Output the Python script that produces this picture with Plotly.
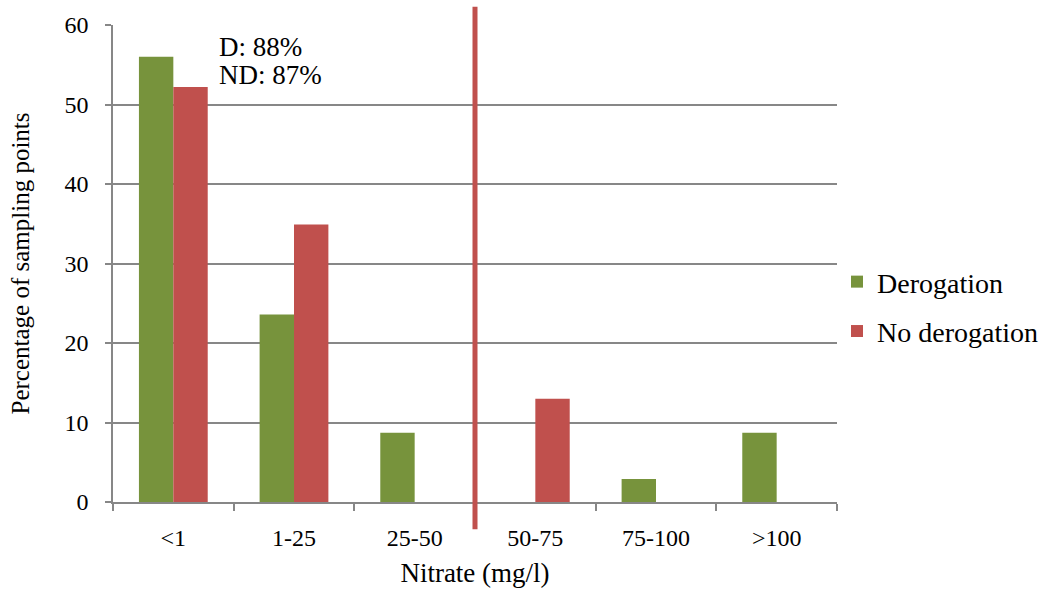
import plotly.graph_objects as go

# Nitrate concentration classes (mg/l)
categories = ["<1", "1-25", "25-50", "50-75", "75-100", ">100"]
# Percentage of sampling points per class
derogation = [56.0, 23.6, 8.7, 0, 2.9, 8.7]
no_derogation = [52.2, 34.9, 0, 13.0, 0, 0]

GREEN = "#77933c"
RED = "#c0504d"
GRID = "#878787"
FONT = "Liberation Serif"

fig = go.Figure()
fig.add_trace(go.Bar(x=categories, y=derogation, name="Derogation",
                     marker=dict(color=GREEN, line=dict(width=0)),
                     legendgroup="d"))
fig.add_trace(go.Bar(x=categories, y=no_derogation, name="No derogation",
                     marker=dict(color=RED, line=dict(width=0)),
                     legendgroup="nd"))

# Threshold marker at 50 mg/l, between the 25-50 and 50-75 classes
fig.add_shape(type="line", xref="x", yref="paper", x0=2.5, x1=2.5,
              y0=-0.057, y1=1.038, line=dict(color=RED, width=5), layer="above")

# Share of points below the threshold
for txt, ypos in [("D: 88%", 0.954), ("ND: 87%", 0.895)]:
    fig.add_annotation(x=0.0, y=ypos, xref="paper", yref="paper", xanchor="left",
                       yanchor="middle", xshift=104, showarrow=False,
                       text=txt, font=dict(family=FONT, size=27, color="#000000"))

fig.update_layout(
    width=1053, height=596,
    margin=dict(l=113, r=216, t=25, b=94, autoexpand=False),
    paper_bgcolor="white", plot_bgcolor="white",
    barmode="group", bargap=0.43, bargroupgap=0,
    font=dict(family=FONT, size=24, color="#000000"),
    legend=dict(x=1.0, y=0.41, xanchor="left", yanchor="middle",
                font=dict(family=FONT, size=28), traceorder="grouped",
                tracegroupgap=10, itemwidth=30, bgcolor="rgba(0,0,0,0)"),
    xaxis=dict(title=dict(text="Nitrate (mg/l)", font=dict(size=27), standoff=14),
               showline=True, linecolor=GRID, linewidth=1.5,
               ticks="outside", tickson="boundaries", ticklen=7,
               tickcolor=GRID, tickwidth=1.5, showgrid=False,
               ticklabelstandoff=13, tickfont=dict(size=24)),
    yaxis=dict(title=dict(text="Percentage of sampling points", font=dict(size=25),
                          standoff=28),
               range=[0, 60], dtick=10, showline=True, linecolor=GRID,
               linewidth=1.5, ticks="outside", ticklen=6, tickcolor=GRID,
               tickwidth=1.5, showgrid=True, gridcolor=GRID, gridwidth=1.5,
               zeroline=False, ticklabelstandoff=12, tickfont=dict(size=24)),
)

fig.write_html("out.html")
